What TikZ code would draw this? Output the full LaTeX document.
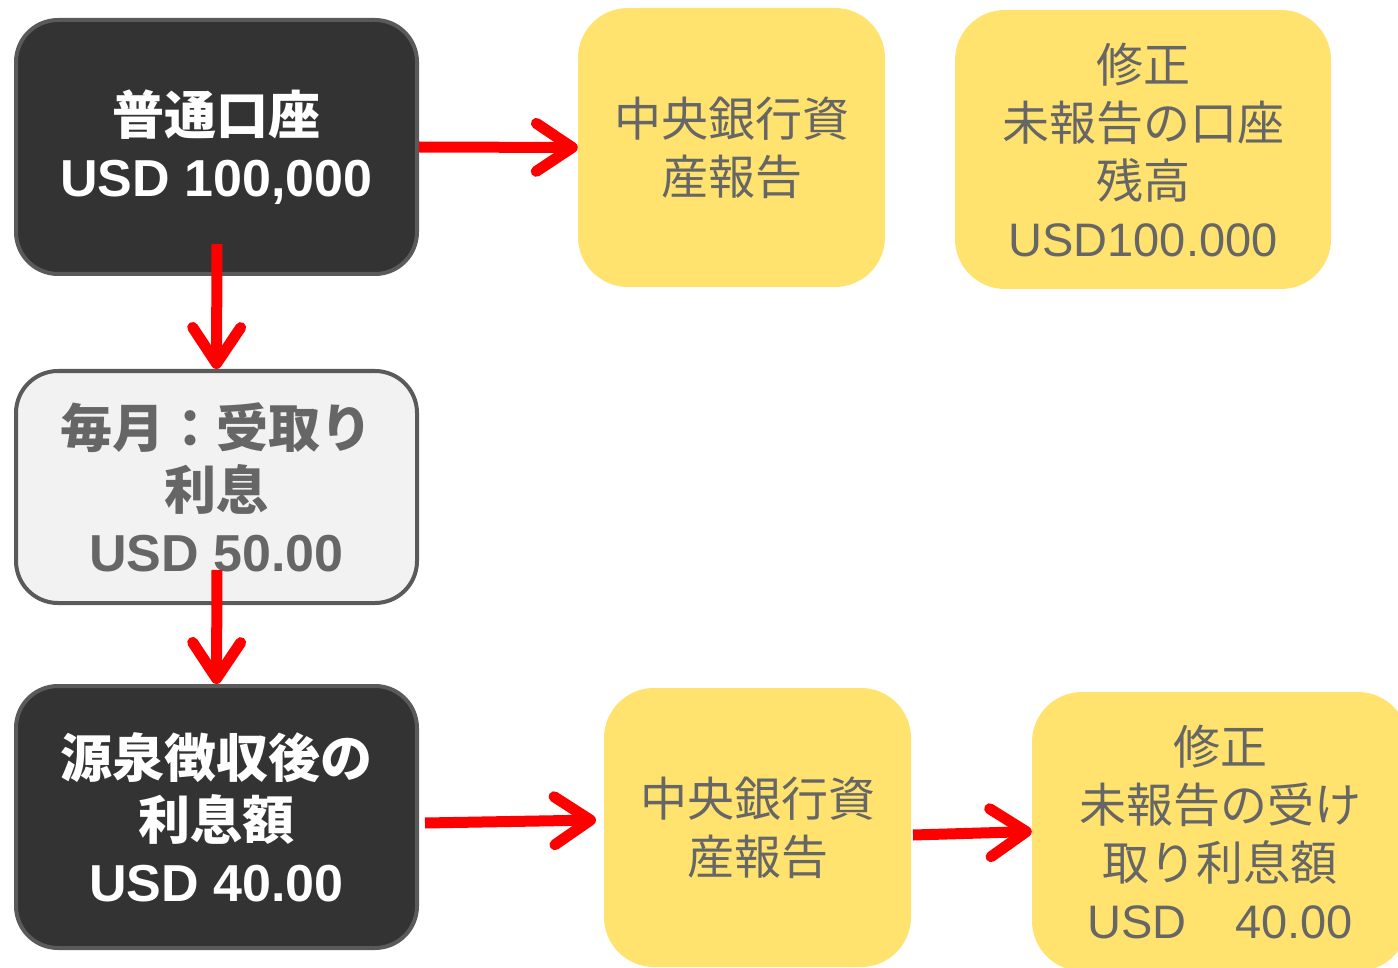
\documentclass[tikz,border=0pt]{standalone}
\usepackage{fontspec}
\setmainfont{Liberation Sans}
\newfontfamily\cjk{Noto Sans CJK JP}
\usetikzlibrary{arrows.meta}
\definecolor{darkbox}{HTML}{333333}
\definecolor{boxline}{HTML}{5A5A5A}
\definecolor{lightbox}{HTML}{F2F2F2}
\definecolor{yel}{HTML}{FFE36E}
\definecolor{txtgray}{HTML}{666666}
\begin{document}
\begin{tikzpicture}[x=1pt,y=-1pt,
  dark/.style={draw=boxline, line width=4pt, fill=darkbox, rounded corners=42pt,
    text=white, font=\bfseries\fontsize{52}{62}\selectfont, align=center, inner sep=0pt},
  light/.style={draw=boxline, line width=4pt, fill=lightbox, rounded corners=42pt,
    text=txtgray, font=\bfseries\fontsize{52}{62}\selectfont, align=center, inner sep=0pt},
  yellow/.style={fill=yel, rounded corners=50pt, text=txtgray,
    font=\fontsize{47}{58}\selectfont, align=center, inner sep=0pt,
    minimum width=307pt, minimum height=279pt},
  arr/.style={draw=red, line width=11pt, -{Straight Barb[length=36pt,width=48pt,round]}}
]
\useasboundingbox (0,0) rectangle (1398,968);

\node[dark, minimum width=401pt, minimum height=254pt] (b1) at (216.5,147)
  {{\cjk 普通口座}\\USD 100,000};
\node[yellow] (b2) at (731.5,147.5) {\cjk 中央銀行資\\\cjk 産報告};
\node[yellow, minimum width=376pt] (b3) at (1143,149.5)
  {{\cjk 修正}\\{\cjk 未報告の口座}\\{\cjk 残高}\\USD100.000};
\node[light, minimum width=401pt, minimum height=232pt] (b4) at (216.5,487)
  {{\cjk 毎月：受取り}\\{\cjk 利息}\\USD 50.00};
\node[dark, minimum width=401pt, minimum height=262pt] (b5) at (216.5,817)
  {{\cjk 源泉徴収後の}\\{\cjk 利息額}\\USD 40.00};
\node[yellow] (b6) at (757.5,827.5) {\cjk 中央銀行資\\\cjk 産報告};
\node[yellow, minimum width=376pt] (b7) at (1220,831.5)
  {{\cjk 修正}\\{\cjk 未報告の受け}\\{\cjk 取り利息額}\\USD\hspace{49pt}40.00};

\coordinate (a2s) at (217,244);
\coordinate (a3s) at (217,570);
\coordinate (a4s) at (425,823);
\coordinate (a4e) at (596,820);
\coordinate (a5s) at (913,835);

\draw[arr] (b1.east) -- (b2.west);
\draw[arr] (a2s) -- (b4.north);
\draw[arr] (a3s) -- (b5.north);
\draw[arr] (a4s) -- (a4e);
\draw[arr] (a5s) -- (b7.west);
\end{tikzpicture}
\end{document}
